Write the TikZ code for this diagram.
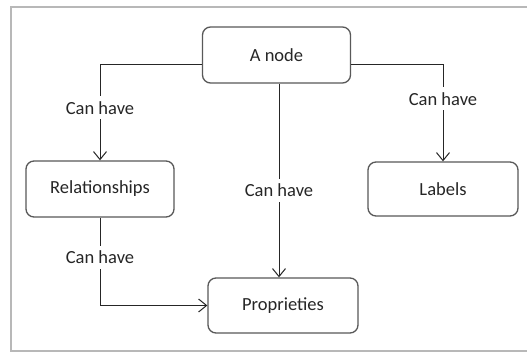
\documentclass[tikz,border=0pt]{standalone}
\usepackage{fontspec}
\setmainfont{Carlito}
\usetikzlibrary{arrows.meta,calc}
\begin{document}
\begin{tikzpicture}[x=1pt,y=-1pt,
  box/.style={draw=black!65,line width=1.3pt,rounded corners=8pt,minimum width=148pt,minimum height=56pt,
    font=\fontsize{18.5}{22}\selectfont,text=black!85,inner sep=0pt},
  lbl/.style={fill=white,font=\fontsize{18.5}{22}\selectfont,text=black!85,inner sep=5pt},
  arr/.style={draw=black!85,line width=1pt,-{Straight Barb[length=8pt,width=13pt,line width=1pt]}}]
\useasboundingbox (0,0) rectangle (527,352);
\fill[white] (0,0) rectangle (527,352);
\draw[black!28,line width=2pt] (527,7) -- (11,7) -- (11,351) -- (527,351);
\node[box] (anode) at (276.5,55) {A node};
\node[box] (rel) at (100,189) {Relationships};
\node[box,minimum width=150pt,minimum height=54pt] (labels) at (443,189) {Labels};
\node[box,minimum width=150pt,minimum height=55pt] (props) at (283,305.5) {Proprieties};
\coordinate (lout) at ($(anode.west)+(0,10)$);
\coordinate (rout) at ($(anode.east)+(0,10)$);
\coordinate (mx) at (279,0);
\draw[arr] (lout) -| node[lbl,pos=0.724] {Can have} (rel.north);
\draw[arr] (rout) -| node[lbl,pos=0.675] {Can have} (labels.north);
\draw[arr] (anode.south -| mx) -- node[lbl,pos=0.55] {Can have} (props.north -| mx);
\draw[arr] (rel.south) |- node[lbl,pos=0.227] {Can have} (props.west);
\end{tikzpicture}
\end{document}
